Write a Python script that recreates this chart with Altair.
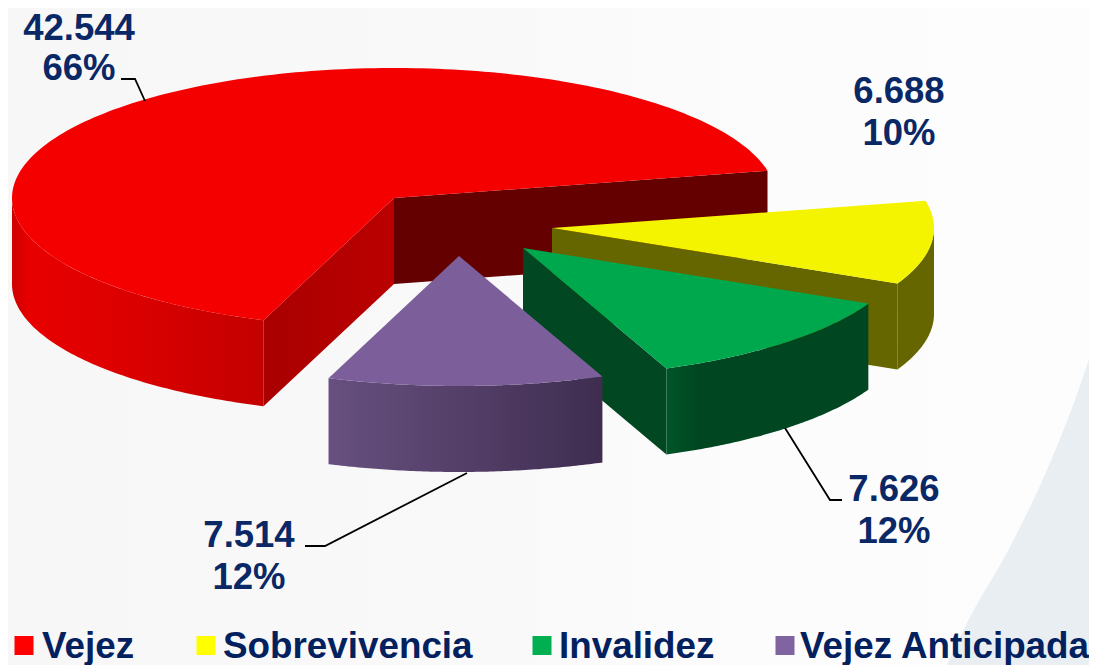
import math
import altair as alt
import pandas as pd

# ---- chart values
categories = ["Vejez", "Sobrevivencia", "Invalidez", "Vejez Anticipada"]
values = [42544, 6688, 7626, 7514]
value_labels = ["42.544", "6.688", "7.626", "7.514"]
pct_labels = ["66%", "10%", "12%", "12%"]
legend_colors = ["#ff0000", "#ffff00", "#00b050", "#8064a2"]
top_colors = ["#f50000", "#f4f300", "#00a84d", "#7c5f9a"]
cut_colors = ["#b50000", "#666600", "#004722", "#4a3a60"]

# annotation positions
apex_x = [394, 552, 523, 459]
apex_y = [198, 228, 248, 256]
label_x = [79, 899, 894, 249]
label_y1 = [40, 103, 501, 547]
label_y2 = [80, 145, 543, 589]
legend_square_x = [24, 206, 542, 785]
legend_text_x = [42, 223, 559, 800]
leader_x = [[121, 135, 145], [305, 325, 467], [842, 830, 785]]
leader_y = [[79, 79, 101], [546, 546, 473], [500, 500, 428]]
swoop_x = [1097, 1075, 1050, 1010, 967, 947]
swoop_y = [335, 400, 463, 547, 623, 665]

RX, RY, DEPTH = 382, 130, 86
START_DEG = 12.1

W, H = 1081, 657
X = alt.X("x:Q", scale=alt.Scale(domain=[8, 1089], nice=False, zero=False), axis=None)
Y = alt.Y("y:Q", scale=alt.Scale(domain=[665, 8], nice=False, zero=False), axis=None)


def rim(i, t0, t1, z=0, n=80):
    """Points along the rim of slice i from angle t0 to t1 (degrees)."""
    pts = []
    for k in range(n + 1):
        t = math.radians(t0 + (t1 - t0) * k / n)
        pts.append((apex_x[i] + RX * math.cos(t), apex_y[i] - RY * math.sin(t) + z))
    return pts


def poly(pts, fill):
    df = pd.DataFrame({"x": [p[0] for p in pts] + [pts[0][0]],
                       "y": [p[1] for p in pts] + [pts[0][1]],
                       "o": list(range(len(pts) + 1))})
    return alt.Chart(df).mark_line(fill=fill, stroke=None, strokeWidth=0, clip=False).encode(
        x=X, y=Y, order="o:Q")


def hgrad(*stops):
    return alt.Gradient(gradient="linear", x1=0, x2=1, y1=0, y2=0,
                        stops=[alt.GradientStop(offset=o, color=c) for o, c in stops])


# slice angles, clockwise from START_DEG
total = sum(values)
bounds = [START_DEG]
for v in values[1:]:
    bounds.append(bounds[-1] - v / total * 360)
red_end = bounds[-1] + 360  # red runs counter-clockwise up to here

layers = []

# background
bg = pd.DataFrame({"x": [8], "x2": [1089], "y": [8], "y2": [665]})
layers.append(alt.Chart(bg).mark_rect(
    fill=hgrad((0, "#f7f7f7"), (0.45, "#f9f9f9"), (0.7, "#fcfcfc"), (1, "#fdfdfd"))
).encode(x=X, x2="x2:Q", y=Y, y2="y2:Q"))
sw = pd.DataFrame({"x": swoop_x, "y": swoop_y, "y2": [665] * len(swoop_x)})
layers.append(alt.Chart(sw).mark_area(fill="#e8eef1", interpolate="monotone", clip=True).encode(
    x=X, y=Y, y2="y2:Q"))

# ----- red
c = (apex_x[0], apex_y[0])
p_s, p_e = rim(0, START_DEG, START_DEG, n=1)[0], rim(0, red_end, red_end, n=1)[0]
layers.append(poly([c, p_s, (p_s[0], p_s[1] + DEPTH), (c[0], c[1] + DEPTH)], "#640000"))
top = rim(0, 180, red_end)
low = rim(0, 180, red_end, DEPTH)
layers.append(poly(top + low[::-1], hgrad((0, "#cf0000"), (0.07, "#e80000"), (0.4, "#de0000"), (1, "#c40000"))))
layers.append(poly([c, p_e, (p_e[0], p_e[1] + DEPTH), (c[0], c[1] + DEPTH)],
                   hgrad((0, "#a90000"), (1, "#bb0000"))))
layers.append(poly([c] + rim(0, START_DEG, red_end, n=200), top_colors[0]))

# ----- yellow
c = (apex_x[1], apex_y[1])
p_e = rim(1, bounds[1], bounds[1], n=1)[0]
top = rim(1, 0, bounds[1])
low = rim(1, 0, bounds[1], DEPTH)
layers.append(poly(top + low[::-1], cut_colors[1]))
layers.append(poly([c, p_e, (p_e[0], p_e[1] + DEPTH), (c[0], c[1] + DEPTH)], cut_colors[1]))
layers.append(poly([c] + rim(1, START_DEG, bounds[1]), top_colors[1]))

# ----- green
c = (apex_x[2], apex_y[2])
p_e = rim(2, bounds[2], bounds[2], n=1)[0]
layers.append(poly([c, p_e, (p_e[0], p_e[1] + DEPTH), (c[0], c[1] + DEPTH)], cut_colors[2]))
top = rim(2, bounds[1], bounds[2])
low = rim(2, bounds[1], bounds[2], DEPTH)
layers.append(poly(top + low[::-1], hgrad((0, "#005528"), (0.15, "#004721"), (1, "#004721"))))
layers.append(poly([c] + rim(2, bounds[1], bounds[2]), top_colors[2]))

# ----- purple
c = (apex_x[3], apex_y[3])
top = rim(3, bounds[2], bounds[3])
low = rim(3, bounds[2], bounds[3], DEPTH)
layers.append(poly(top + low[::-1], hgrad((0, "#67507f"), (1, "#3f2d50"))))
layers.append(poly([c] + rim(3, bounds[2], bounds[3]), top_colors[3]))

# ----- leader lines
for lx, ly in zip(leader_x, leader_y):
    df = pd.DataFrame({"x": lx, "y": ly, "o": range(len(lx))})
    layers.append(alt.Chart(df).mark_line(color="#000000", strokeWidth=1.8).encode(x=X, y=Y, order="o:Q"))

# ----- labels
FONT = "Liberation Sans"
TXT = "#0a2866"
lab = pd.DataFrame({"x": label_x * 2, "y": label_y1 + label_y2, "t": value_labels + pct_labels})
layers.append(alt.Chart(lab).mark_text(font=FONT, fontWeight="bold", fontSize=36.5, color=TXT,
                                       align="center", baseline="alphabetic").encode(x=X, y=Y, text="t:N"))

# ----- legend
leg_y = [645.5] * 4
sq = pd.DataFrame({"x": legend_square_x, "y": leg_y, "c": categories})
layers.append(alt.Chart(sq).mark_square(size=361, opacity=1).encode(
    x=X, y=Y,
    color=alt.Color("c:N", scale=alt.Scale(domain=categories, range=legend_colors), legend=None)))
lt = pd.DataFrame({"x": legend_text_x, "y": [658] * 4, "t": categories})
layers.append(alt.Chart(lt).mark_text(font=FONT, fontWeight="bold", fontSize=36.8, color="#04215f",
                                      align="left", baseline="alphabetic").encode(x=X, y=Y, text="t:N"))

chart = alt.layer(*layers).properties(
    width=W, height=H, padding=0, background="transparent",
    autosize=alt.AutoSizeParams(type="none")
).configure_view(stroke=None)

chart.save("out.html", embed_options={"renderer": "svg", "actions": False})
